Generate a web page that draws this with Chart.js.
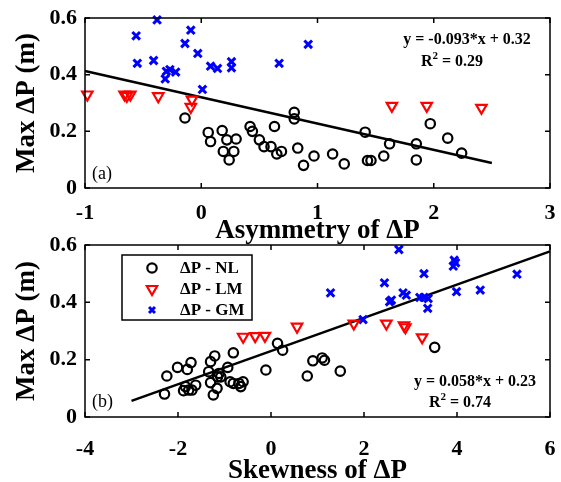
<!DOCTYPE html>
<html>
<head>
<meta charset="utf-8">
<script src="https://cdn.jsdelivr.net/npm/chart.js@4.4.1/dist/chart.umd.min.js"></script>
<style>
  body { margin: 0; background: #fff; overflow: hidden; }
  #wrap { position: relative; width: 561px; height: 482px; }
  canvas { position: absolute; left: 0; top: 0; }
</style>
</head>
<body>
<div id="wrap">
  <canvas id="topChart" width="561" height="482"></canvas>
  <canvas id="bottomChart" width="561" height="482"></canvas>
</div>
<script>
// (a) Asymmetry of dP vs max dP
const asymNLx = [-0.14, 0.06, 0.08, 0.18, 0.22, 0.30, 0.19, 0.28, 0.24, 0.42, 0.44, 0.50, 0.54, 0.60, 0.63, 0.65, 0.69, 0.80, 0.80, 0.83, 0.88, 0.97, 1.13, 1.23, 1.41, 1.43, 1.46, 1.57, 1.62, 1.85, 1.85, 1.97, 2.12, 2.24];
const asymNLy = [0.247, 0.196, 0.164, 0.203, 0.17, 0.173, 0.129, 0.129, 0.099, 0.217, 0.2, 0.17, 0.146, 0.146, 0.217, 0.12, 0.129, 0.267, 0.244, 0.141, 0.08, 0.113, 0.12, 0.085, 0.197, 0.097, 0.097, 0.113, 0.156, 0.156, 0.099, 0.227, 0.176, 0.123];
const asymLMx = [-0.98, -0.66, -0.64, -0.61, -0.37, -0.08, -0.09, 1.64, 1.94, 2.41];
const asymLMy = [0.33, 0.33, 0.325, 0.33, 0.324, 0.312, 0.286, 0.29, 0.29, 0.283];
const asymGMx = [-0.56, -0.38, -0.55, -0.41, -0.30, -0.31, -0.27, -0.22, -0.14, -0.09, -0.03, 0.01, 0.08, 0.14, 0.26, 0.26, 0.67, 0.92];
const asymGMy = [0.537, 0.593, 0.44, 0.45, 0.412, 0.385, 0.418, 0.409, 0.51, 0.557, 0.475, 0.348, 0.43, 0.422, 0.446, 0.424, 0.44, 0.507];
const asymFitX = [-1, 2.5];
const asymFitY = [0.413, 0.088];

// (b) Skewness of dP vs max dP
const skewNLx = [-2.29, -2.24, -2.01, -1.80, -1.72, -1.88, -1.84, -1.77, -1.70, -1.62, -1.30, -1.21, -1.34, -1.30, -1.24, -1.16, -1.12, -1.08, -1.15, -0.93, -0.81, -0.88, -0.81, -0.69, -0.60, -0.65, -0.11, 0.14, 0.25, 0.78, 0.90, 1.10, 1.15, 1.49, 3.52];
const skewNLy = [0.08, 0.143, 0.173, 0.166, 0.19, 0.092, 0.106, 0.094, 0.094, 0.111, 0.193, 0.213, 0.158, 0.12, 0.077, 0.1, 0.152, 0.14, 0.14, 0.173, 0.224, 0.123, 0.117, 0.117, 0.123, 0.106, 0.164, 0.257, 0.233, 0.143, 0.196, 0.206, 0.198, 0.16, 0.243];
const skewLMx = [-0.60, -0.34, -0.13, 0.56, 1.78, 2.48, 2.86, 2.89, 3.25];
const skewLMy = [0.28, 0.282, 0.283, 0.315, 0.326, 0.326, 0.32, 0.313, 0.278];
const skewGMx = [2.75, 1.28, 1.98, 2.44, 2.55, 2.59, 2.84, 2.91, 3.29, 3.20, 3.29, 3.38, 3.37, 3.94, 3.97, 3.92, 3.99, 4.50, 5.29];
const skewGMy = [0.584, 0.433, 0.34, 0.468, 0.402, 0.408, 0.433, 0.425, 0.5, 0.417, 0.417, 0.413, 0.379, 0.547, 0.538, 0.526, 0.437, 0.443, 0.498];
const skewFitX = [-3, 6];
const skewFitY = [0.056, 0.578];

const seriesNames = ["\u0394P - NL", "\u0394P - LM", "\u0394P - GM"];
const yTicks = [0, 0.2, 0.4, 0.6];

const SERIF = "'Liberation Serif', 'Times New Roman', serif";

const pts = (xs, ys) => xs.map((x, i) => ({ x: x, y: ys[i] }));

function markerSets(nlx, nly, lmx, lmy, gmx, gmy, fx, fy) {
  return [
    { label: seriesNames[0], data: pts(nlx, nly), pointStyle: "circle", pointRadius: 4.7,
      pointBorderWidth: 2.2, pointBorderColor: "#000", pointBackgroundColor: "rgba(0,0,0,0)", clip: false },
    { label: seriesNames[1], data: pts(lmx, lmy), pointStyle: "triangle", pointRotation: 180, pointRadius: 6,
      pointBorderWidth: 2.2, pointBorderColor: "#ff0000", pointBackgroundColor: "rgba(0,0,0,0)", clip: false },
    { label: seriesNames[2], data: pts(gmx, gmy), pointStyle: "crossRot", pointRadius: 5.4,
      pointBorderWidth: 3, pointBorderColor: "#0000ff", pointBackgroundColor: "#0000ff", clip: false },
    { label: "fit", data: pts(fx, fy), showLine: true, borderColor: "#000", borderWidth: 2.5,
      pointRadius: 0, clip: false },
  ];
}

// box round the plot with inward ticks, like matlab
const framePlugin = {
  id: "frame",
  afterDraw(chart) {
    const { ctx, chartArea: a, scales } = chart;
    ctx.save();
    ctx.strokeStyle = "#000";
    ctx.lineWidth = 1.5;
    ctx.strokeRect(a.left, a.top, a.right - a.left, a.bottom - a.top);
    const tl = 5;
    ctx.beginPath();
    scales.x.ticks.forEach((t) => {
      const px = scales.x.getPixelForValue(t.value);
      ctx.moveTo(px, a.bottom); ctx.lineTo(px, a.bottom - tl);
      ctx.moveTo(px, a.top); ctx.lineTo(px, a.top + tl);
    });
    scales.y.ticks.forEach((t) => {
      const py = scales.y.getPixelForValue(t.value);
      ctx.moveTo(a.left, py); ctx.lineTo(a.left + tl, py);
      ctx.moveTo(a.right, py); ctx.lineTo(a.right - tl, py);
    });
    ctx.stroke();

    const o = chart.options.plugins.frame;
    ctx.fillStyle = "#000";
    ctx.textBaseline = "middle";
    ctx.textAlign = "left";
    ctx.font = "18px " + SERIF;
    ctx.fillText(o.tag, a.left + 7, o.tagY);

    ctx.font = "bold 16px " + SERIF;
    ctx.textAlign = "center";
    ctx.fillText(o.eq, o.eqX, o.eqY);
    // R^2 line with a raised 2
    const rest = " = " + o.r2;
    const wR = ctx.measureText("R").width;
    const wRest = ctx.measureText(rest).width;
    ctx.font = "bold 11px " + SERIF;
    const w2 = ctx.measureText("2").width;
    let x0 = o.r2X - (wR + w2 + wRest) / 2;
    ctx.textAlign = "left";
    ctx.font = "bold 16px " + SERIF;
    ctx.fillText("R", x0, o.r2Y);
    ctx.font = "bold 11px " + SERIF;
    ctx.fillText("2", x0 + wR, o.r2Y - 6);
    ctx.font = "bold 16px " + SERIF;
    ctx.fillText(rest, x0 + wR + w2, o.r2Y);

    if (o.legend) {
      ctx.lineWidth = 1.5;
      ctx.strokeRect(122, 255, 130, 65);
      const rows = [268, 289, 310];
      for (let i = 0; i < 3; i++) {
        const ds = chart.data.datasets[i];
        ctx.save();
        ctx.strokeStyle = ds.pointBorderColor;
        ctx.fillStyle = "rgba(0,0,0,0)";
        ctx.lineWidth = ds.pointBorderWidth;
        Chart.helpers.drawPoint(ctx, { pointStyle: ds.pointStyle, rotation: ds.pointRotation || 0,
          radius: ds.pointStyle === "crossRot" ? 4.2 : ds.pointRadius, borderWidth: ds.pointBorderWidth }, 152, rows[i]);
        ctx.restore();
        ctx.fillStyle = "#000";
        ctx.font = "bold 17px " + SERIF;
        ctx.textAlign = "left";
        ctx.fillText(ds.label, 180, rows[i] + 1);
      }
    }
    ctx.restore();
  },
};

function makeOptions(o) {
  return {
    responsive: false,
    animation: false,
    events: [],
    layout: { padding: o.padding },
    plugins: { legend: { display: false }, tooltip: { enabled: false }, frame: o.frame },
    scales: {
      x: {
        type: "linear", min: o.xMin, max: o.xMax,
        afterFit: (s) => { s.height = o.xHeight; s.paddingLeft = 0; s.paddingRight = 0; },
        afterBuildTicks: (s) => { s.ticks = o.xTicks.map((v) => ({ value: v })); },
        grid: { display: false, drawTicks: false },
        border: { display: false },
        ticks: { color: "#000", padding: o.xTickPad, maxRotation: 0,
          font: { family: SERIF, size: 22, weight: "bold" } },
        title: { display: true, text: o.xTitle, color: "#000", padding: { top: 0, bottom: o.titlePad },
          font: { family: SERIF, size: 27, weight: "bold", lineHeight: 1 } },
      },
      y: {
        type: "linear", min: 0, max: 0.6,
        afterFit: (s) => { s.width = 85; s.paddingTop = 0; s.paddingBottom = 0; },
        afterBuildTicks: (s) => { s.ticks = yTicks.map((v) => ({ value: v })); },
        grid: { display: false, drawTicks: false },
        border: { display: false },
        ticks: { color: "#000", padding: 8, font: { family: SERIF, size: 22, weight: "bold" } },
        title: { display: true, text: "Max \u0394P (m)", color: "#000", padding: { top: 14, bottom: 0 },
          font: { family: SERIF, size: 27, weight: "bold", lineHeight: 1 } },
      },
    },
  };
}

new Chart(document.getElementById("topChart"), {
  type: "scatter",
  data: { datasets: markerSets(asymNLx, asymNLy, asymLMx, asymLMy, asymGMx, asymGMy, asymFitX, asymFitY) },
  options: makeOptions({
    padding: { top: 18, right: 11, bottom: 237, left: 0 },
    xMin: -1, xMax: 3, xTicks: [-1, 0, 1, 2, 3], xHeight: 57, xTickPad: 12, titlePad: 0,
    xTitle: "Asymmetry of \u0394P",
    frame: { tag: "(a)", tagY: 174, eq: "y = -0.093*x + 0.32", eqX: 467, eqY: 40, r2: "0.29", r2X: 452, r2Y: 62, legend: false },
  }),
  plugins: [framePlugin],
});

new Chart(document.getElementById("bottomChart"), {
  type: "scatter",
  data: { datasets: markerSets(skewNLx, skewNLy, skewLMx, skewLMy, skewGMx, skewGMy, skewFitX, skewFitY) },
  options: makeOptions({
    padding: { top: 245, right: 11, bottom: 0, left: 0 },
    xMin: -4, xMax: 6, xTicks: [-4, -2, 0, 2, 4, 6], xHeight: 65, xTickPad: 19, titlePad: -3,
    xTitle: "Skewness of \u0394P",
    frame: { tag: "(b)", tagY: 402, eq: "y = 0.058*x + 0.23", eqX: 475, eqY: 382, r2: "0.74", r2X: 460, r2Y: 403, legend: true },
  }),
  plugins: [framePlugin],
});
</script>
</body>
</html>
